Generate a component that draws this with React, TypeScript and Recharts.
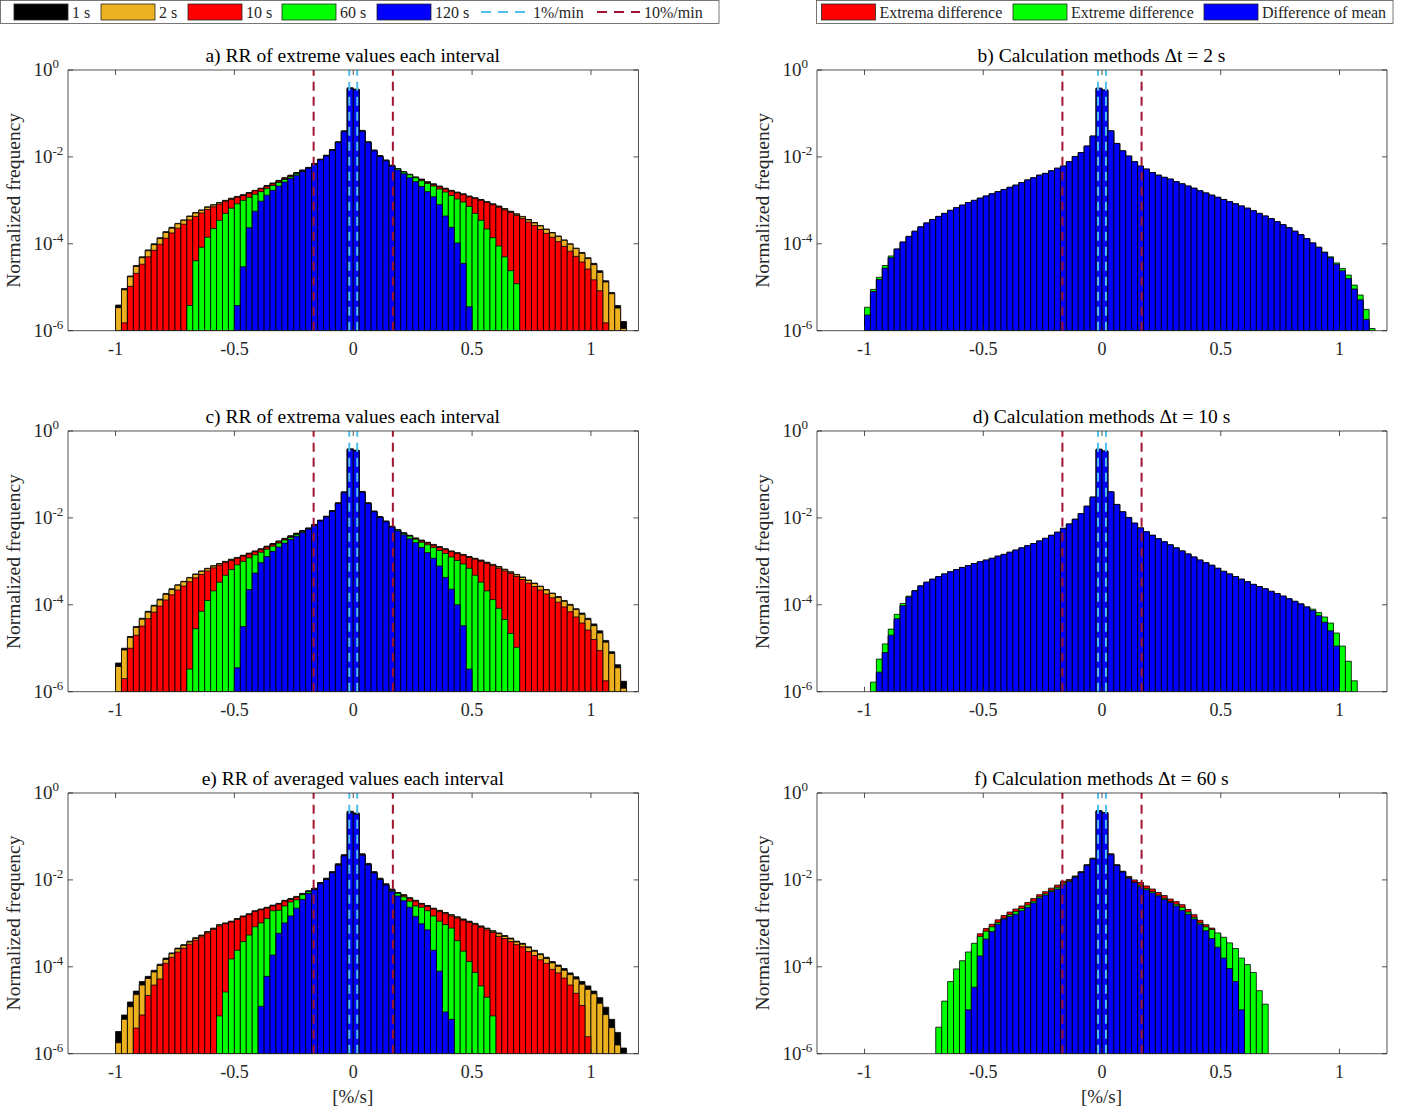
import { ComposedChart, Bar, XAxis, YAxis, ReferenceLine } from 'recharts';

const _ = null;

// bin centres [%/s], bins 0.025 wide
const binCenters = [
  -0.9875, -0.9625, -0.9375, -0.9125, -0.8875, -0.8625, -0.8375, -0.8125, -0.7875, -0.7625,
  -0.7375, -0.7125, -0.6875, -0.6625, -0.6375, -0.6125, -0.5875, -0.5625, -0.5375, -0.5125,
  -0.4875, -0.4625, -0.4375, -0.4125, -0.3875, -0.3625, -0.3375, -0.3125, -0.2875, -0.2625,
  -0.2375, -0.2125, -0.1875, -0.1625, -0.1375, -0.1125, -0.0875, -0.0625, -0.0375, -0.0125,
  0.0125, 0.0375, 0.0625, 0.0875, 0.1125, 0.1375, 0.1625, 0.1875, 0.2125, 0.2375,
  0.2625, 0.2875, 0.3125, 0.3375, 0.3625, 0.3875, 0.4125, 0.4375, 0.4625, 0.4875,
  0.5125, 0.5375, 0.5625, 0.5875, 0.6125, 0.6375, 0.6625, 0.6875, 0.7125, 0.7375,
  0.7625, 0.7875, 0.8125, 0.8375, 0.8625, 0.8875, 0.9125, 0.9375, 0.9625, 0.9875,
  1.0125, 1.0375, 1.0625, 1.0875, 1.1125, 1.1375,
];

const xTicks = [-1, -0.5, 0, 0.5, 1];
const yTicks = [1, 1e-2, 1e-4, 1e-6];

// log10(normalized frequency) per bin, null = empty bin

// a) RR of extreme values each interval
const a1s = [
  -5.41, -5.03, -4.74, -4.50, -4.30, -4.14, -4.00, -3.86, -3.72, -3.62,
  -3.53, -3.45, -3.36, -3.28, -3.22, -3.15, -3.10, -3.05, -3.00, -2.95,
  -2.91, -2.87, -2.82, -2.77, -2.72, -2.66, -2.60, -2.54, -2.48, -2.42,
  -2.36, -2.30, -2.24, -2.15, -2.05, -1.96, -1.83, -1.65, -1.40, -0.41,
  -0.44, -1.39, -1.65, -1.84, -1.97, -2.07, -2.19, -2.27, -2.34, -2.40,
  -2.46, -2.51, -2.57, -2.62, -2.67, -2.72, -2.77, -2.81, -2.85, -2.90,
  -2.94, -2.98, -3.03, -3.08, -3.13, -3.19, -3.25, -3.31, -3.37, -3.44,
  -3.51, -3.58, -3.66, -3.74, -3.82, -3.91, -4.00, -4.10, -4.20, -4.32,
  -4.45, -4.62, -4.85, -5.12, -5.42, -5.79,
];
const a2s = [
  -5.47, -5.06, -4.76, -4.52, -4.32, -4.16, -4.02, -3.88, -3.74, -3.64,
  -3.54, -3.46, -3.37, -3.29, -3.23, -3.16, -3.11, -3.06, -3.01, -2.96,
  -2.92, -2.88, -2.83, -2.78, -2.73, -2.67, -2.61, -2.55, -2.49, -2.43,
  -2.37, -2.31, -2.25, -2.16, -2.06, -1.97, -1.84, -1.66, -1.41, -0.42,
  -0.45, -1.40, -1.66, -1.85, -1.98, -2.08, -2.20, -2.28, -2.35, -2.41,
  -2.47, -2.52, -2.58, -2.63, -2.68, -2.73, -2.78, -2.82, -2.86, -2.91,
  -2.95, -2.99, -3.04, -3.09, -3.14, -3.20, -3.26, -3.32, -3.38, -3.45,
  -3.52, -3.59, -3.67, -3.75, -3.83, -3.92, -4.01, -4.11, -4.22, -4.34,
  -4.48, -4.66, -4.88, -5.15, -5.48, -5.95,
];
const a10s = [
  _, -5.82, -4.98, -4.68, -4.47, -4.30, -4.15, -4.01, -3.87, -3.75,
  -3.64, -3.55, -3.45, -3.37, -3.29, -3.21, -3.15, -3.09, -3.03, -2.98,
  -2.93, -2.89, -2.84, -2.78, -2.73, -2.68, -2.62, -2.56, -2.50, -2.44,
  -2.38, -2.32, -2.26, -2.17, -2.07, -1.98, -1.85, -1.67, -1.42, -0.43,
  -0.46, -1.41, -1.67, -1.86, -1.99, -2.09, -2.21, -2.29, -2.36, -2.42,
  -2.48, -2.53, -2.59, -2.64, -2.69, -2.74, -2.79, -2.83, -2.87, -2.92,
  -2.96, -3.00, -3.05, -3.10, -3.16, -3.22, -3.28, -3.35, -3.42, -3.50,
  -3.58, -3.67, -3.76, -3.85, -3.95, -4.06, -4.17, -4.29, -4.42, -4.58,
  -4.83, -5.08, -5.82, _, _, _,
];
const a60s = [
  _, _, _, _, _, _, _, _, _, _,
  _, _, -5.42, -4.39, -4.08, -3.85, -3.65, -3.46, -3.30, -3.18,
  -3.08, -3.00, -2.93, -2.86, -2.80, -2.73, -2.66, -2.59, -2.52, -2.46,
  -2.39, -2.33, -2.27, -2.17, -2.07, -1.98, -1.85, -1.67, -1.42, -0.43,
  -0.46, -1.41, -1.67, -1.86, -1.99, -2.09, -2.21, -2.27, -2.35, -2.41,
  -2.48, -2.55, -2.61, -2.67, -2.74, -2.81, -2.89, -2.97, -3.04, -3.14,
  -3.30, -3.46, -3.66, -3.86, -4.05, -4.30, -4.62, -4.92, _, _,
  _, _, _, _, _, _, _, _, _, _,
  _, _, _, _, _, _,
];
const a120s = [
  _, _, _, _, _, _, _, _, _, _,
  _, _, _, _, _, _, _, _, _, _,
  -5.42, -4.53, -3.63, -3.25, -3.02, -2.88, -2.77, -2.67, -2.58, -2.50,
  -2.42, -2.34, -2.26, -2.17, -2.07, -1.98, -1.85, -1.67, -1.42, -0.43,
  -0.46, -1.41, -1.67, -1.86, -1.99, -2.09, -2.21, -2.30, -2.39, -2.48,
  -2.57, -2.68, -2.80, -2.92, -3.10, -3.36, -3.62, -3.98, -4.45, -5.45,
  _, _, _, _, _, _, _, _, _, _,
  _, _, _, _, _, _, _, _, _, _,
  _, _, _, _, _, _,
];

// c) RR of extrema values each interval
const c1s = [
  -5.34, -5.00, -4.73, -4.50, -4.31, -4.15, -4.01, -3.87, -3.74, -3.63,
  -3.54, -3.46, -3.37, -3.29, -3.22, -3.16, -3.10, -3.05, -3.00, -2.95,
  -2.91, -2.86, -2.81, -2.76, -2.71, -2.65, -2.59, -2.53, -2.47, -2.41,
  -2.35, -2.29, -2.23, -2.15, -2.05, -1.96, -1.83, -1.65, -1.40, -0.41,
  -0.44, -1.39, -1.65, -1.84, -1.97, -2.07, -2.19, -2.27, -2.34, -2.40,
  -2.46, -2.51, -2.56, -2.61, -2.66, -2.71, -2.76, -2.80, -2.84, -2.89,
  -2.93, -2.97, -3.02, -3.07, -3.12, -3.18, -3.24, -3.30, -3.36, -3.43,
  -3.50, -3.57, -3.65, -3.73, -3.81, -3.90, -3.99, -4.09, -4.19, -4.31,
  -4.44, -4.60, -4.82, -5.08, -5.38, -5.76,
];
const c2s = [
  -5.42, -5.04, -4.75, -4.52, -4.33, -4.17, -4.03, -3.89, -3.76, -3.65,
  -3.55, -3.47, -3.38, -3.30, -3.23, -3.17, -3.11, -3.06, -3.01, -2.96,
  -2.92, -2.87, -2.82, -2.77, -2.72, -2.66, -2.60, -2.54, -2.48, -2.42,
  -2.36, -2.30, -2.24, -2.16, -2.06, -1.97, -1.84, -1.66, -1.41, -0.42,
  -0.45, -1.40, -1.66, -1.85, -1.98, -2.08, -2.20, -2.28, -2.35, -2.41,
  -2.47, -2.52, -2.57, -2.62, -2.67, -2.72, -2.77, -2.81, -2.85, -2.90,
  -2.94, -2.98, -3.03, -3.08, -3.13, -3.19, -3.25, -3.31, -3.37, -3.44,
  -3.51, -3.58, -3.66, -3.74, -3.83, -3.92, -4.01, -4.11, -4.22, -4.34,
  -4.48, -4.65, -4.86, -5.12, -5.45, -5.92,
];
const c10s = [
  _, -5.70, -5.00, -4.70, -4.49, -4.32, -4.17, -4.03, -3.89, -3.77,
  -3.66, -3.57, -3.47, -3.38, -3.30, -3.22, -3.15, -3.09, -3.03, -2.98,
  -2.93, -2.88, -2.83, -2.78, -2.73, -2.67, -2.61, -2.55, -2.49, -2.43,
  -2.37, -2.31, -2.25, -2.17, -2.07, -1.98, -1.85, -1.67, -1.42, -0.43,
  -0.46, -1.41, -1.67, -1.86, -1.99, -2.09, -2.21, -2.29, -2.36, -2.42,
  -2.48, -2.53, -2.58, -2.63, -2.68, -2.73, -2.78, -2.82, -2.86, -2.91,
  -2.95, -3.00, -3.05, -3.10, -3.16, -3.22, -3.28, -3.35, -3.42, -3.50,
  -3.58, -3.66, -3.75, -3.84, -3.94, -4.05, -4.16, -4.28, -4.42, -4.58,
  -4.80, -5.05, -5.75, _, _, _,
];
const c60s = [
  _, _, _, _, _, _, _, _, _, _,
  _, _, -5.48, -4.55, -4.15, -3.90, -3.68, -3.48, -3.32, -3.19,
  -3.08, -3.00, -2.92, -2.85, -2.79, -2.72, -2.65, -2.58, -2.51, -2.45,
  -2.38, -2.32, -2.26, -2.17, -2.07, -1.98, -1.85, -1.67, -1.42, -0.43,
  -0.46, -1.41, -1.67, -1.86, -1.99, -2.09, -2.21, -2.28, -2.36, -2.42,
  -2.49, -2.56, -2.62, -2.68, -2.75, -2.82, -2.90, -2.98, -3.06, -3.16,
  -3.32, -3.48, -3.68, -3.88, -4.08, -4.34, -4.66, -4.98, _, _,
  _, _, _, _, _, _, _, _, _, _,
  _, _, _, _, _, _,
];
const c120s = [
  _, _, _, _, _, _, _, _, _, _,
  _, _, _, _, _, _, _, _, _, _,
  -5.45, -4.50, -3.65, -3.27, -3.03, -2.89, -2.77, -2.67, -2.58, -2.50,
  -2.42, -2.34, -2.26, -2.17, -2.07, -1.98, -1.85, -1.67, -1.42, -0.43,
  -0.46, -1.41, -1.67, -1.86, -1.99, -2.09, -2.21, -2.30, -2.39, -2.48,
  -2.57, -2.68, -2.80, -2.93, -3.11, -3.37, -3.64, -4.00, -4.48, -5.48,
  _, _, _, _, _, _, _, _, _, _,
  _, _, _, _, _, _, _, _, _, _,
  _, _, _, _, _, _,
];

// e) RR of averaged values each interval
const e1s = [
  -5.49, -5.11, -4.81, -4.56, -4.34, -4.22, -4.08, -3.94, -3.80, -3.68,
  -3.57, -3.49, -3.41, -3.33, -3.27, -3.19, -3.11, -3.03, -2.99, -2.95,
  -2.89, -2.83, -2.78, -2.71, -2.67, -2.63, -2.58, -2.54, -2.47, -2.43,
  -2.38, -2.31, -2.25, -2.19, -2.06, -1.96, -1.81, -1.63, -1.42, -0.42,
  -0.46, -1.40, -1.62, -1.81, -1.96, -2.09, -2.21, -2.29, -2.34, -2.41,
  -2.47, -2.54, -2.59, -2.65, -2.70, -2.75, -2.80, -2.85, -2.90, -2.95,
  -3.00, -3.06, -3.11, -3.17, -3.22, -3.28, -3.34, -3.41, -3.46, -3.54,
  -3.62, -3.70, -3.78, -3.88, -3.96, -4.04, -4.14, -4.23, -4.34, -4.44,
  -4.56, -4.71, -4.93, -5.21, -5.51, -5.87,
];
const e2s = [
  -5.75, -5.21, -4.92, -4.64, -4.42, -4.27, -4.12, -3.97, -3.83, -3.70,
  -3.59, -3.51, -3.43, -3.35, -3.28, -3.20, -3.12, -3.04, -3.00, -2.96,
  -2.90, -2.84, -2.79, -2.72, -2.68, -2.64, -2.59, -2.55, -2.48, -2.44,
  -2.39, -2.32, -2.26, -2.20, -2.07, -1.97, -1.82, -1.64, -1.43, -0.43,
  -0.47, -1.41, -1.63, -1.82, -1.97, -2.10, -2.22, -2.30, -2.35, -2.42,
  -2.48, -2.55, -2.60, -2.66, -2.71, -2.76, -2.81, -2.86, -2.91, -2.96,
  -3.01, -3.07, -3.12, -3.18, -3.24, -3.30, -3.36, -3.43, -3.48, -3.56,
  -3.64, -3.72, -3.81, -3.91, -3.99, -4.08, -4.18, -4.28, -4.40, -4.52,
  -4.62, -4.84, -5.10, -5.40, -5.80, _,
];
const e10s = [
  _, _, _, -5.41, -5.11, -4.66, -4.42, -4.28, -3.92, -3.78,
  -3.66, -3.57, -3.48, -3.39, -3.31, -3.22, -3.14, -3.06, -3.01, -2.97,
  -2.91, -2.85, -2.80, -2.73, -2.69, -2.65, -2.60, -2.56, -2.49, -2.45,
  -2.40, -2.33, -2.27, -2.21, -2.08, -1.98, -1.83, -1.65, -1.44, -0.44,
  -0.48, -1.42, -1.64, -1.83, -1.98, -2.11, -2.23, -2.31, -2.36, -2.43,
  -2.49, -2.56, -2.61, -2.67, -2.73, -2.78, -2.83, -2.88, -2.93, -2.98,
  -3.03, -3.09, -3.15, -3.21, -3.30, -3.35, -3.42, -3.49, -3.54, -3.65,
  -3.74, -3.84, -3.92, -4.06, -4.14, -4.26, -4.42, -4.61, -4.89, -5.61,
  _, _, _, _, _, _,
];
const e60s = [
  _, _, _, _, _, _, _, _, _, _,
  _, _, _, _, _, _, _, -5.13, -4.58, -3.82,
  -3.62, -3.42, -3.27, -3.08, -2.99, -2.89, -2.71, -2.70, -2.60, -2.51,
  -2.46, -2.34, -2.27, -2.22, -2.09, -1.99, -1.84, -1.66, -1.45, -0.45,
  -0.49, -1.43, -1.65, -1.84, -1.99, -2.12, -2.25, -2.31, -2.39, -2.49,
  -2.60, -2.63, -2.71, -2.83, -2.95, -3.03, -3.11, -3.40, -3.64, -3.88,
  -4.13, -4.44, -4.70, -5.13, _, _, _, _, _, _,
  _, _, _, _, _, _, _, _, _, _,
  _, _, _, _, _, _,
];
const e120s = [
  _, _, _, _, _, _, _, _, _, _,
  _, _, _, _, _, _, _, _, _, _,
  _, _, _, _, -4.91, -4.22, -3.73, -3.23, -2.99, -2.83,
  -2.65, -2.45, -2.31, -2.22, -2.09, -1.99, -1.84, -1.66, -1.45, -0.45,
  -0.49, -1.43, -1.65, -1.84, -1.99, -2.12, -2.26, -2.37, -2.48, -2.63,
  -2.84, -3.01, -3.15, -3.62, -4.10, -5.04, -5.21, _, _, _,
  _, _, _, _, _, _, _, _, _, _,
  _, _, _, _, _, _, _, _, _, _,
  _, _, _, _, _, _,
];

// b) Calculation methods, dt = 2 s
const bExtrema = [
  -5.70, -5.12, -4.83, -4.57, -4.33, -4.13, -3.97, -3.84, -3.72, -3.62,
  -3.53, -3.45, -3.38, -3.31, -3.24, -3.18, -3.12, -3.06, -3.01, -2.96,
  -2.91, -2.86, -2.81, -2.76, -2.71, -2.66, -2.60, -2.54, -2.49, -2.43,
  -2.39, -2.33, -2.27, -2.22, -2.12, -2.00, -1.91, -1.76, -1.53, -0.43,
  -0.47, -1.41, -1.70, -1.87, -1.99, -2.12, -2.22, -2.29, -2.37, -2.43,
  -2.48, -2.52, -2.58, -2.63, -2.68, -2.73, -2.79, -2.84, -2.89, -2.94,
  -2.99, -3.04, -3.09, -3.14, -3.19, -3.25, -3.31, -3.37, -3.43, -3.50,
  -3.57, -3.64, -3.72, -3.80, -3.89, -3.99, -4.09, -4.21, -4.33, -4.48,
  -4.63, -4.82, -5.06, -5.32, -5.80, _,
];
const bExtreme = [
  -5.46, -5.05, -4.77, -4.50, -4.28, -4.12, -3.96, -3.83, -3.71, -3.61,
  -3.52, -3.44, -3.37, -3.30, -3.23, -3.17, -3.11, -3.05, -3.00, -2.95,
  -2.90, -2.85, -2.80, -2.75, -2.70, -2.65, -2.59, -2.53, -2.48, -2.42,
  -2.38, -2.32, -2.26, -2.21, -2.11, -1.99, -1.90, -1.75, -1.52, -0.42,
  -0.46, -1.40, -1.69, -1.86, -1.98, -2.11, -2.21, -2.28, -2.36, -2.42,
  -2.47, -2.51, -2.57, -2.62, -2.67, -2.72, -2.78, -2.83, -2.88, -2.93,
  -2.98, -3.03, -3.08, -3.13, -3.18, -3.24, -3.30, -3.36, -3.42, -3.49,
  -3.56, -3.63, -3.71, -3.79, -3.88, -3.98, -4.08, -4.19, -4.30, -4.44,
  -4.57, -4.72, -4.95, -5.18, -5.51, -5.95,
];
const bMean = [
  -5.64, -5.10, -4.82, -4.56, -4.32, -4.12, -3.96, -3.83, -3.71, -3.61,
  -3.52, -3.44, -3.37, -3.30, -3.23, -3.17, -3.11, -3.05, -3.00, -2.95,
  -2.90, -2.85, -2.80, -2.75, -2.70, -2.65, -2.59, -2.53, -2.48, -2.42,
  -2.38, -2.32, -2.26, -2.21, -2.11, -1.99, -1.90, -1.75, -1.52, -0.42,
  -0.46, -1.40, -1.69, -1.86, -1.98, -2.11, -2.21, -2.28, -2.36, -2.42,
  -2.47, -2.51, -2.57, -2.62, -2.67, -2.72, -2.78, -2.83, -2.88, -2.93,
  -2.98, -3.03, -3.08, -3.13, -3.18, -3.24, -3.30, -3.36, -3.42, -3.49,
  -3.56, -3.63, -3.71, -3.79, -3.88, -3.98, -4.08, -4.20, -4.32, -4.47,
  -4.62, -4.80, -5.04, -5.29, -5.74, _,
];

// d) Calculation methods, dt = 10 s
const dExtrema = [
  _, _, -5.60, -5.12, -4.72, -4.34, -4.03, -3.83, -3.69, -3.58,
  -3.49, -3.42, -3.36, -3.30, -3.25, -3.20, -3.15, -3.11, -3.06, -3.02,
  -2.98, -2.94, -2.89, -2.85, -2.80, -2.75, -2.70, -2.65, -2.60, -2.54,
  -2.48, -2.41, -2.34, -2.25, -2.15, -2.04, -1.91, -1.74, -1.53, -0.43,
  -0.47, -1.41, -1.70, -1.87, -2.00, -2.13, -2.24, -2.33, -2.41, -2.49,
  -2.56, -2.63, -2.70, -2.77, -2.84, -2.91, -2.98, -3.04, -3.10, -3.17,
  -3.24, -3.30, -3.36, -3.42, -3.48, -3.54, -3.59, -3.64, -3.70, -3.75,
  -3.81, -3.87, -3.93, -3.99, -4.06, -4.15, -4.28, -4.44, -4.65, -5.00,
  _, _, _, _, _, _,
];
const dExtreme = [
  _, -5.78, -5.25, -4.90, -4.56, -4.22, -3.97, -3.80, -3.67, -3.56,
  -3.48, -3.41, -3.35, -3.29, -3.24, -3.19, -3.14, -3.10, -3.05, -3.01,
  -2.97, -2.93, -2.88, -2.84, -2.79, -2.74, -2.69, -2.64, -2.59, -2.53,
  -2.47, -2.40, -2.33, -2.24, -2.14, -2.03, -1.90, -1.73, -1.52, -0.42,
  -0.46, -1.40, -1.69, -1.86, -1.99, -2.12, -2.23, -2.32, -2.40, -2.48,
  -2.55, -2.62, -2.69, -2.76, -2.83, -2.90, -2.97, -3.03, -3.09, -3.16,
  -3.23, -3.29, -3.35, -3.41, -3.47, -3.53, -3.58, -3.63, -3.69, -3.74,
  -3.80, -3.86, -3.92, -3.98, -4.05, -4.10, -4.18, -4.28, -4.42, -4.65,
  -4.95, -5.30, -5.75, _, _, _,
];
const dMean = [
  _, _, -5.55, -5.10, -4.70, -4.32, -4.02, -3.82, -3.68, -3.57,
  -3.48, -3.41, -3.35, -3.29, -3.24, -3.19, -3.14, -3.10, -3.05, -3.01,
  -2.97, -2.93, -2.88, -2.84, -2.79, -2.74, -2.69, -2.64, -2.59, -2.53,
  -2.47, -2.40, -2.33, -2.24, -2.14, -2.03, -1.90, -1.73, -1.52, -0.42,
  -0.46, -1.40, -1.69, -1.86, -1.99, -2.12, -2.23, -2.32, -2.40, -2.48,
  -2.55, -2.62, -2.69, -2.76, -2.83, -2.90, -2.97, -3.03, -3.09, -3.16,
  -3.23, -3.29, -3.35, -3.41, -3.47, -3.53, -3.58, -3.63, -3.69, -3.74,
  -3.80, -3.86, -3.92, -3.98, -4.05, -4.13, -4.25, -4.40, -4.60, -4.95,
  _, _, _, _, _, _,
];

// f) Calculation methods, dt = 60 s
const fExtrema = [
  _, _, _, _, _, _, _, _, _, _,
  _, _, _, _, _, -4.60, -4.20, -3.90, -3.60, -3.24,
  -3.12, -3.02, -2.92, -2.82, -2.74, -2.67, -2.60, -2.52, -2.43, -2.34,
  -2.27, -2.19, -2.12, -2.03, -1.99, -1.91, -1.81, -1.65, -1.50, -0.41,
  -0.45, -1.40, -1.65, -1.80, -1.92, -2.00, -2.06, -2.14, -2.21, -2.29,
  -2.36, -2.44, -2.50, -2.57, -2.68, -2.80, -2.93, -3.03, -3.11, -3.24,
  -3.40, -3.60, -3.90, -4.40, _, _, _, _, _, _,
  _, _, _, _, _, _, _, _, _, _,
  _, _, _, _, _, _,
];
const fExtreme = [
  _, _, _, _, _, _, _, _, _, _,
  _, _, -5.39, -4.79, -4.34, -4.05, -3.86, -3.66, -3.46, -3.30,
  -3.18, -3.08, -2.98, -2.88, -2.80, -2.73, -2.66, -2.58, -2.49, -2.39,
  -2.32, -2.24, -2.17, -2.07, -2.02, -1.92, -1.82, -1.66, -1.51, -0.41,
  -0.45, -1.41, -1.66, -1.81, -1.95, -2.05, -2.12, -2.20, -2.27, -2.35,
  -2.42, -2.50, -2.56, -2.63, -2.74, -2.86, -2.99, -3.08, -3.14, -3.22,
  -3.32, -3.45, -3.58, -3.80, -3.95, -4.13, -4.55, -4.86, _, _,
  _, _, _, _, _, _, _, _, _, _,
  _, _, _, _, _, _,
];
const fMean = [
  _, _, _, _, _, _, _, _, _, _,
  _, _, _, _, _, _, _, -4.99, -4.47, -3.75,
  -3.36, -3.19, -3.02, -2.90, -2.84, -2.79, -2.71, -2.63, -2.53, -2.42,
  -2.35, -2.27, -2.21, -2.10, -2.04, -1.94, -1.83, -1.67, -1.52, -0.42,
  -0.46, -1.42, -1.67, -1.82, -1.96, -2.06, -2.15, -2.23, -2.30, -2.37,
  -2.45, -2.52, -2.60, -2.70, -2.79, -2.90, -3.02, -3.17, -3.35, -3.55,
  -3.80, -4.04, -4.34, -4.99, _, _, _, _, _, _,
  _, _, _, _, _, _, _, _, _, _,
  _, _, _, _, _, _,
];

const FONT = '"Liberation Serif", "Times New Roman", serif';
const AXIS = '#262626';
const C1 = '#000000';
const C2 = '#EDB120';
const C10 = '#FF0000';
const C60 = '#00FF00';
const C120 = '#0000FF';
const LIGHT_BLUE = '#4DBEEE';
const DARK_RED = '#A2142F';

const PLOT_H = 260.7;
const BAR_SIZE = 5.9;
const DASH = '9 6';

type Series = { color: string; values: (number | null)[] };

function toRows(series: Series[]) {
  return binCenters.map((x, i) => {
    const row: Record<string, number | null> = { x };
    series.forEach((s, j) => {
      const v = s.values[i];
      row['s' + j] = v == null ? null : Math.pow(10, v);
    });
    return row;
  });
}

function BottomTick({ x, y, payload }: any) {
  return (
    <g>
      <line x1={x} y1={y} x2={x} y2={y - 5} stroke={AXIS} strokeWidth={0.8} />
      <text x={x} y={y + 24} textAnchor="middle" fontFamily={FONT} fontSize={18} fill={AXIS}>
        {payload.value}
      </text>
    </g>
  );
}

function TopTick({ x, y }: any) {
  return <line x1={x} y1={y} x2={x} y2={y + 5} stroke={AXIS} strokeWidth={0.8} />;
}

function LeftTick({ x, y, payload }: any) {
  const exp = Math.round(Math.log10(payload.value));
  return (
    <g>
      <line x1={x} y1={y} x2={x + 5} y2={y} stroke={AXIS} strokeWidth={0.8} />
      <text x={x - 34.5} y={y + 6.5} textAnchor="start" fontFamily={FONT} fontSize={19} fill={AXIS}>
        10
        <tspan fontSize={13} dy={-8.5}>
          {exp}
        </tspan>
      </text>
    </g>
  );
}

function RightTick({ x, y }: any) {
  return <line x1={x} y1={y} x2={x - 5} y2={y} stroke={AXIS} strokeWidth={0.8} />;
}

function Panel({ left, top, width, series }: { left: number; top: number; width: number; series: Series[] }) {
  const rows = toRows(series);
  return (
    <div style={{ position: 'absolute', left: left - 70, top: top - 30 }}>
      <ComposedChart
        width={width + 100}
        height={PLOT_H + 70}
        data={rows}
        margin={{ top: 29, right: 29, bottom: 0, left: 10 }}
        barGap={-BAR_SIZE}
        barSize={BAR_SIZE}
      >
        <XAxis
          xAxisId="b"
          dataKey="x"
          type="number"
          domain={[-1.2, 1.2]}
          allowDataOverflow
          ticks={xTicks}
          interval={0}
          height={40}
          tickSize={0}
          tickMargin={0}
          tickLine={false}
          axisLine={{ stroke: AXIS, strokeWidth: 0.8 }}
          tick={<BottomTick />}
        />
        <XAxis
          xAxisId="t"
          dataKey="x"
          orientation="top"
          type="number"
          domain={[-1.2, 1.2]}
          allowDataOverflow
          ticks={xTicks}
          interval={0}
          height={1}
          tickSize={0}
          tickMargin={0}
          tickLine={false}
          axisLine={{ stroke: AXIS, strokeWidth: 0.8 }}
          tick={<TopTick />}
        />
        <YAxis
          yAxisId="l"
          type="number"
          scale="log"
          domain={[1e-6, 1]}
          allowDataOverflow
          ticks={yTicks}
          interval={0}
          width={60}
          tickSize={0}
          tickMargin={0}
          tickLine={false}
          axisLine={{ stroke: AXIS, strokeWidth: 0.8 }}
          tick={<LeftTick />}
        />
        <YAxis
          yAxisId="r"
          orientation="right"
          type="number"
          scale="log"
          domain={[1e-6, 1]}
          allowDataOverflow
          ticks={yTicks}
          interval={0}
          width={1}
          tickSize={0}
          tickMargin={0}
          tickLine={false}
          axisLine={{ stroke: AXIS, strokeWidth: 0.8 }}
          tick={<RightTick />}
        />
        {series.map((s, j) => (
          <Bar
            key={j}
            xAxisId="b"
            yAxisId="l"
            dataKey={'s' + j}
            fill={s.color}
            stroke="#000"
            strokeWidth={0.8}
            barSize={BAR_SIZE}
            isAnimationActive={false}
          />
        ))}
        {[-1 / 6, 1 / 6].map((v) => (
          <ReferenceLine key={'r' + v} xAxisId="b" yAxisId="l" x={v} stroke={DARK_RED} strokeWidth={2} strokeDasharray={DASH} />
        ))}
        {[-1 / 60, 1 / 60].map((v) => (
          <ReferenceLine key={'b' + v} xAxisId="b" yAxisId="l" x={v} stroke={LIGHT_BLUE} strokeWidth={2} strokeDasharray={DASH} />
        ))}
      </ComposedChart>
    </div>
  );
}

const COL_X = [67.5, 816.5];
const COL_W = [570.5, 570];
const ROW_Y = [70, 431.3, 792.6];

const leftSeries = (s1: any, s2: any, s10: any, s60: any, s120: any): Series[] => [
  { color: C1, values: s1 },
  { color: C2, values: s2 },
  { color: C10, values: s10 },
  { color: C60, values: s60 },
  { color: C120, values: s120 },
];
const rightSeries = (ex: any, ee: any, mean: any): Series[] => [
  { color: C10, values: ex },
  { color: C60, values: ee },
  { color: C120, values: mean },
];

const panels = [
  { col: 0, row: 0, title: 'a) RR of extreme values each interval', series: leftSeries(a1s, a2s, a10s, a60s, a120s) },
  { col: 1, row: 0, title: 'b) Calculation methods \u0394t = 2 s', series: rightSeries(bExtrema, bExtreme, bMean) },
  { col: 0, row: 1, title: 'c) RR of extrema values each interval', series: leftSeries(c1s, c2s, c10s, c60s, c120s) },
  { col: 1, row: 1, title: 'd) Calculation methods \u0394t = 10 s', series: rightSeries(dExtrema, dExtreme, dMean) },
  { col: 0, row: 2, title: 'e) RR of averaged values each interval', series: leftSeries(e1s, e2s, e10s, e60s, e120s) },
  { col: 1, row: 2, title: 'f) Calculation methods \u0394t = 60 s', series: rightSeries(fExtrema, fExtreme, fMean) },
];

const legendLeft = [
  { x: 14, color: C1, label: '1 s' },
  { x: 101, color: C2, label: '2 s' },
  { x: 188, color: C10, label: '10 s' },
  { x: 282, color: C60, label: '60 s' },
  { x: 377, color: C120, label: '120 s' },
];
const legendRight = [
  { x: 821.5, color: C10, label: 'Extrema difference' },
  { x: 1013, color: C60, label: 'Extreme difference' },
  { x: 1204, color: C120, label: 'Difference of mean' },
];

export default function App() {
  return (
    <div style={{ position: 'absolute', left: 0, top: 0, width: 1413, height: 1113, background: '#fff' }}>
      {panels.map((p, i) => (
        <Panel key={i} left={COL_X[p.col]} top={ROW_Y[p.row]} width={COL_W[p.col]} series={p.series} />
      ))}
      <svg width={1413} height={1113} style={{ position: 'absolute', left: 0, top: 0, pointerEvents: 'none' }}>
        <g fontFamily={FONT} fill={AXIS}>
          {/* legends */}
          <rect x={0.5} y={0.5} width={718.5} height={23} fill="#fff" stroke="#555" strokeWidth={0.8} />
          {legendLeft.map((l) => (
            <g key={l.label}>
              <rect x={l.x} y={4} width={54} height={16} fill={l.color} stroke={AXIS} strokeWidth={0.8} />
              <text x={l.x + 58} y={17.5} fontSize={16}>
                {l.label}
              </text>
            </g>
          ))}
          <line x1={481} y1={12} x2={528} y2={12} stroke={LIGHT_BLUE} strokeWidth={2} strokeDasharray="10 7" />
          <text x={533} y={17.5} fontSize={16}>
            1%/min
          </text>
          <line x1={597} y1={12} x2={640} y2={12} stroke={DARK_RED} strokeWidth={2} strokeDasharray="10 7" />
          <text x={644} y={17.5} fontSize={16}>
            10%/min
          </text>

          <rect x={816.5} y={0.5} width={576.5} height={23} fill="#fff" stroke="#555" strokeWidth={0.8} />
          {legendRight.map((l) => (
            <g key={l.label}>
              <rect x={l.x} y={4} width={54} height={16} fill={l.color} stroke={AXIS} strokeWidth={0.8} />
              <text x={l.x + 58} y={17.5} fontSize={16}>
                {l.label}
              </text>
            </g>
          ))}

          {/* titles and axis labels */}
          {panels.map((p, i) => {
            const cx = COL_X[p.col] + COL_W[p.col] / 2;
            const top = ROW_Y[p.row];
            const ly = top + PLOT_H / 2;
            const lx = p.col === 0 ? 20 : 769;
            return (
              <g key={i}>
                <text x={cx} y={top - 8} textAnchor="middle" fontSize={19.5} fill="#000">
                  {p.title}
                </text>
                <text x={lx} y={ly} textAnchor="middle" fontSize={19.5} transform={`rotate(-90 ${lx} ${ly})`}>
                  Normalized frequency
                </text>
                {p.row === 2 && (
                  <text x={cx} y={top + PLOT_H + 50} textAnchor="middle" fontSize={19}>
                    [%/s]
                  </text>
                )}
              </g>
            );
          })}
        </g>
      </svg>
    </div>
  );
}
